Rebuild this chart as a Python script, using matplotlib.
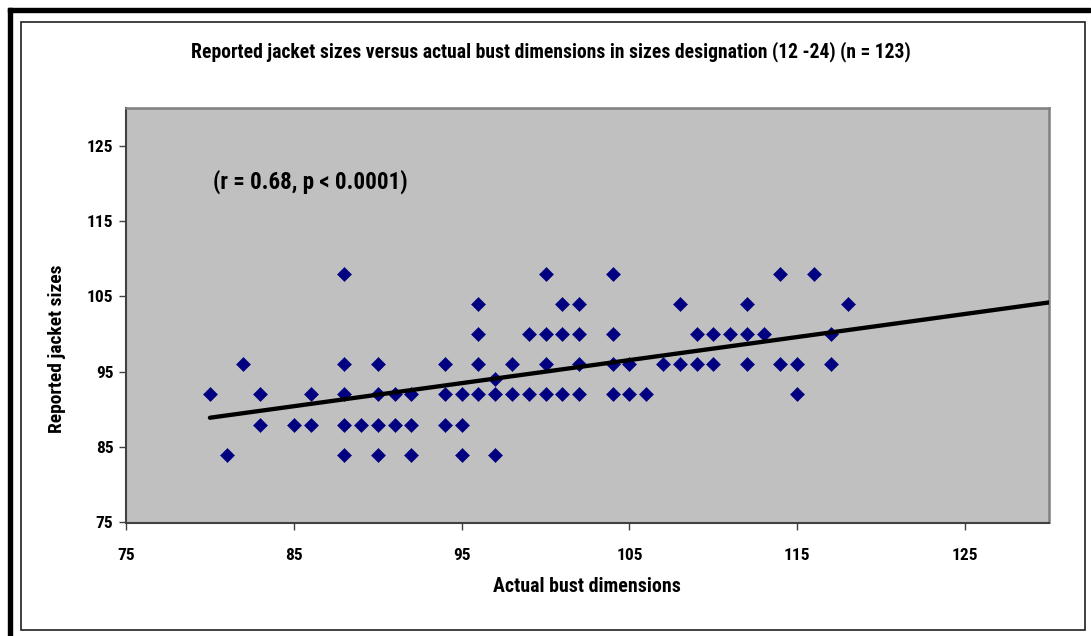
import matplotlib
matplotlib.use("Agg")
import matplotlib.pyplot as plt
from matplotlib import font_manager as fm
from matplotlib.patches import Rectangle

# ---- data ----
y108_x = [88, 100, 104, 114, 116]
y104_x = [96, 101, 102, 108, 112, 118]
y100_x = [96, 99, 100, 101, 102, 104, 109, 110, 111, 112, 113, 117]
y96_x = [82, 88, 90, 94, 96, 98, 100, 102, 104, 105, 107, 108, 109, 110, 112, 114, 115, 117]
y94_x = [97]
y92_x = [80, 83, 86, 88, 90, 91, 92, 94, 95, 96, 97, 98, 99, 100, 101, 102, 104, 105, 106, 115]
y88_x = [83, 85, 86, 88, 89, 90, 91, 92, 94, 95]
y84_x = [81, 88, 90, 92, 95, 97]
rows = {108: y108_x, 104: y104_x, 100: y100_x, 96: y96_x, 94: y94_x,
        92: y92_x, 88: y88_x, 84: y84_x}

trend_x = [80, 130]
trend_y = [88.9, 104.2]

x_ticks = [75, 85, 95, 105, 115, 125]
y_ticks = [75, 85, 95, 105, 115, 125]

title = "Reported jacket sizes versus actual bust dimensions in sizes designation (12 -24) (n = 123)"
xlabel = "Actual bust dimensions"
ylabel = "Reported jacket sizes"
note = "(r = 0.68, p < 0.0001)"

# ---- font ----
names = {f.name for f in fm.fontManager.ttflist}
stretch = "normal"
if "Liberation Sans Narrow" in names:
    FAM = "Liberation Sans Narrow"
elif "Roboto Condensed" in names:
    FAM = "Roboto Condensed"
else:
    FAM = "DejaVu Sans"
    stretch = "condensed"
plt.rcParams["font.family"] = [FAM, "DejaVu Sans"]
plt.rcParams["font.stretch"] = stretch
plt.rcParams["font.weight"] = "bold"

xs, ys = [], []
for yv, xl in rows.items():
    for xv in xl:
        xs.append(xv)
        ys.append(yv)

fig = plt.figure(figsize=(10.91, 6.36), dpi=100)
W, H = 1091, 636

def fx(px):
    return px / W

def fy(py):
    return 1 - py / H

# frame: thick black lines top/left, thin inner border
fig.patches.append(Rectangle((fx(8), fy(12)), fx(1090) - fx(8), 4 / H,
                             transform=fig.transFigure, color="black", zorder=0))
fig.patches.append(Rectangle((fx(8), 0), 4 / W, fy(8),
                             transform=fig.transFigure, color="black", zorder=0))
fig.patches.append(Rectangle((fx(20.5), fy(630)), fx(1085) - fx(20.5), fy(22) - fy(630),
                             transform=fig.transFigure, fill=False,
                             edgecolor="#202020", linewidth=1.2, zorder=0))

ax = fig.add_axes([fx(126), fy(522.5), fx(1049) - fx(126), fy(108) - fy(522.5)])
ax.set_facecolor("#C0C0C0")
ax.set_xlim(75, 130)
ax.set_ylim(75, 130)

ax.plot(xs, ys, linestyle="none", marker="D", markersize=7.6,
        markerfacecolor="#000080", markeredgecolor="#000080",
        markeredgewidth=0.4, zorder=3)
ax.plot(trend_x, trend_y, color="black", linewidth=3.1,
        solid_capstyle="round", zorder=4)

ax.set_xticks(x_ticks)
ax.set_yticks(y_ticks)
ax.tick_params(direction="out", length=5, width=1, color="#404040",
               labelsize=12.5, pad=4)
ax.tick_params(axis="x", pad=13)
for s in ["left", "bottom"]:
    ax.spines[s].set_color("#404040")
    ax.spines[s].set_linewidth(1.5)
for s in ["top", "right"]:
    ax.spines[s].set_color("#808080")
    ax.spines[s].set_linewidth(1.8)

fig.text(fx(551), fy(52), title, ha="center", va="center", fontsize=14.1,
         fontweight="bold")
fig.text(fx(587), fy(586), xlabel, ha="center", va="center", fontsize=14.3,
         fontweight="bold")
fig.text(fx(57), fy(349), ylabel, ha="center", va="center", fontsize=14.0,
         fontweight="bold", rotation=90)
ax.text(fx(310), fy(182), note, transform=fig.transFigure, ha="center",
        va="center", fontsize=16.6, fontweight="bold")

fig.savefig("out.png", dpi=100)
